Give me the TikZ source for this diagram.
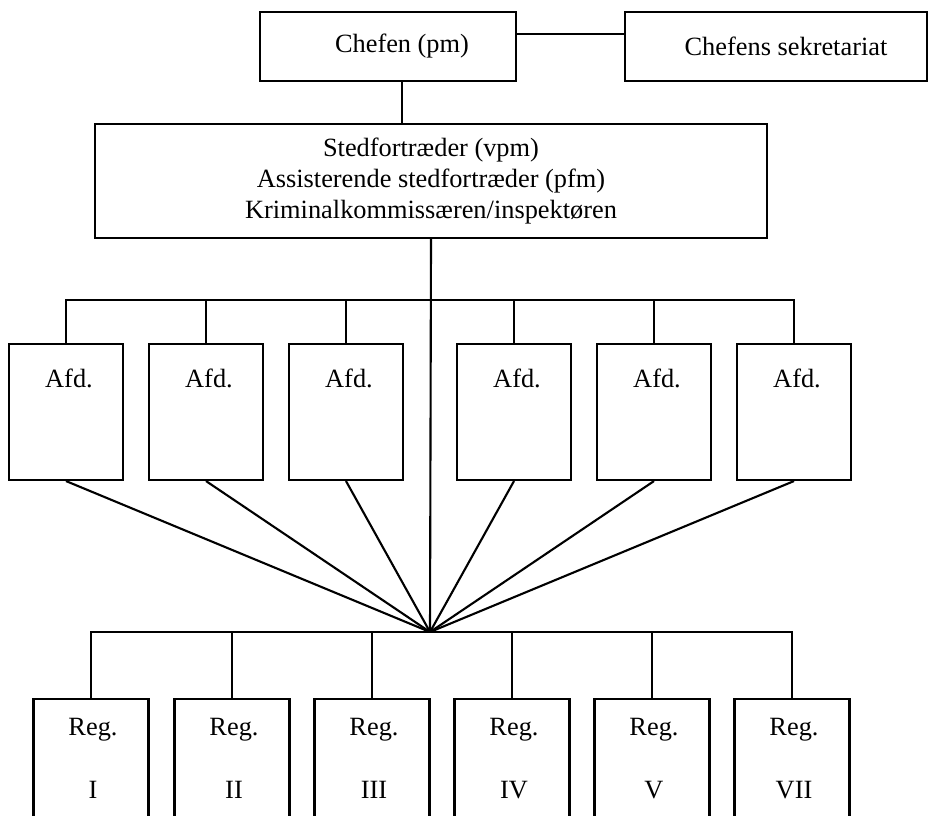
\documentclass[tikz,border=0pt]{standalone}
\usepackage{fontspec}
\setmainfont{Liberation Serif}
\usetikzlibrary{calc}
\begin{document}
\begin{tikzpicture}[x=0.02cm,y=-0.02cm,line width=1.2pt,
    box/.style={draw,inner sep=0pt,font=\fontsize{15}{17.6}\selectfont},
    txt/.style={inner sep=0pt,anchor=base,font=\fontsize{15}{17.6}\selectfont}]
    \clip (0,0) rectangle (928,815);
    \node [box,minimum width=5.12cm,minimum height=1.38cm] (chef) at (388,46.5) {\hspace*{0.56cm}Chefen (pm)};
    \node [box,minimum width=6.04cm,minimum height=1.38cm] (sekr) at (776,46.5) {\hspace*{0.4cm}Chefens sekretariat};
    \node [box,minimum width=13.44cm,minimum height=2.28cm,align=center] (sted) at (431,181)
        {Stedfortræder (vpm)\\Assisterende stedfortræder (pfm)\\Kriminalkommissæren/inspektøren};
    \coordinate (cs) at ($(chef.east)+(0,-12.5)$);
    \coordinate (cd) at ($(chef.south)+(14,0)$);
    \coordinate (abar) at (430,300);
    \coordinate (hub) at (430,632);
    \draw (cs) -- (cs -| sekr.west);
    \draw (cd) -- (cd |- sted.north);
    \draw (sted.south) -- (hub);
    % afdelinger
    \foreach \i/\x in {1/66,2/206,3/346,4/514,5/654,6/794} {
        \node [box,minimum width=2.28cm,minimum height=2.72cm] (afd\i) at (\x,412) {};
        \node [txt] (afdt\i) at (\x+3,387) {Afd.};
        \draw (afd\i.south) -- (hub);
    }
    \draw (afd1.north) |- (abar) -| (afd6.north);
    \foreach \i in {2,...,5}
        \draw (afd\i.north) -- (afd\i.north |- abar);
    % regioner
    \foreach \i/\x/\n in {1/91/I,2/232/II,3/372/III,4/512/IV,5/652/V,6/792/VII} {
        \node [box,minimum width=2.3cm,minimum height=3cm] (reg\i) at (\x,774) {};
        \node [txt] (regt\i) at (\x+2,735) {Reg.};
        \node [txt] (regn\i) at (\x+2,798) {\n};
    }
    \draw (reg1.north) |- (hub) -| (reg6.north);
    \foreach \i in {2,...,5}
        \draw (reg\i.north) -- (reg\i.north |- hub);
\end{tikzpicture}
\end{document}
